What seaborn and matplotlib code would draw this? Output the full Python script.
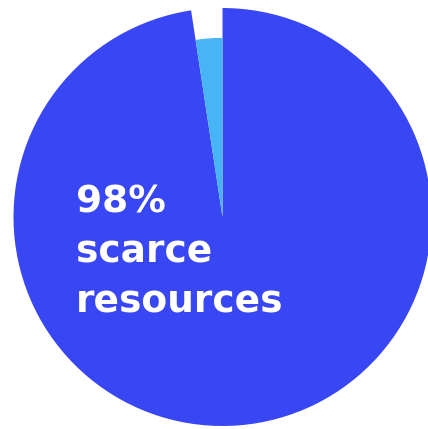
import matplotlib
matplotlib.use('Agg')
import matplotlib.pyplot as plt
import seaborn as sns

# slice shares (percent) and relative radii
labels = ['scarce resources', 'other']
shares = [97.6, 2.4]
radii = [1.0, 0.857]
colors = ['#3846F4', '#47B4F6']
label_text = '98%\nscarce\nresources'

sns.set_theme(style='white')
plt.rcParams['font.family'] = ['DejaVu Sans']

fig = plt.figure(figsize=(4.28, 4.29), dpi=100)
ax = fig.add_axes([0, 0, 1, 1])

# draw each slice on its own pass so each can have its own radius
for i, (r, c) in enumerate(zip(radii, colors)):
    cols = ['none'] * len(shares)
    cols[i] = c
    ax.pie(shares, radius=r, colors=cols, startangle=90, counterclock=False,
           wedgeprops={'linewidth': 0})

ax.set_aspect('auto')
ax.set_xlim(-1.0646, 0.9833)
ax.set_ylim(-1.0144, 1.0383)
ax.axis('off')

ax.text(-0.701, -0.4546, label_text, color='white', fontsize=27,
        fontweight='heavy', ha='left', va='baseline', linespacing=1.5)

fig.savefig('out.png', dpi=100, facecolor='white')
plt.close()
